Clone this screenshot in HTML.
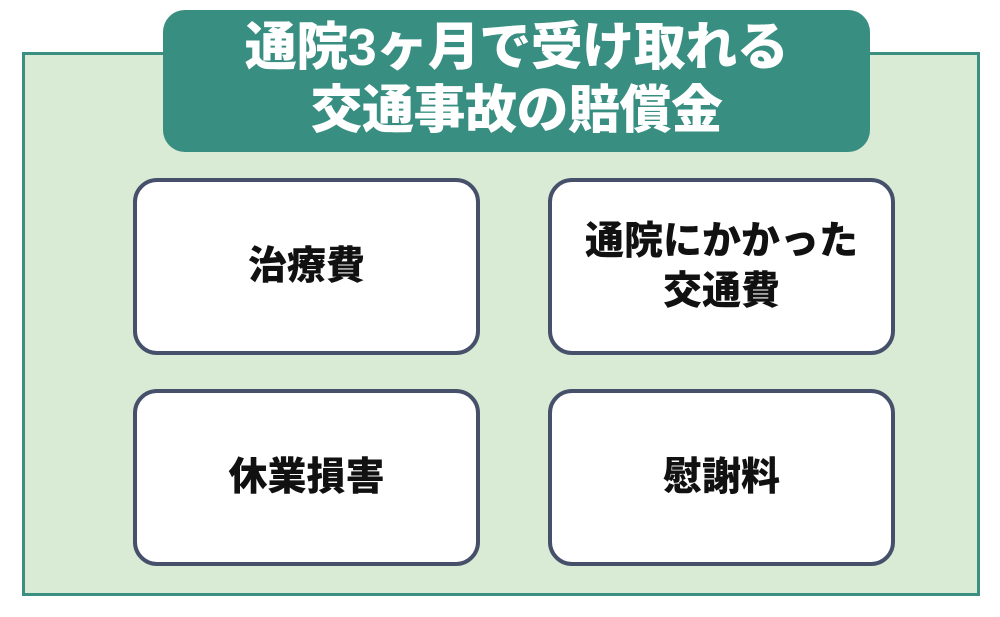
<!DOCTYPE html>
<html><head><meta charset="utf-8"><style>
*{margin:0;padding:0;box-sizing:border-box}
body{width:1000px;height:617px;background:#fff;position:relative;overflow:hidden;font-family:"Liberation Sans","Noto Sans CJK JP",sans-serif}
.outer{position:absolute;left:22px;top:52px;width:958px;height:544px;background:#d9ebd5;border:3px solid #3a8f80}
.title{position:absolute;left:163px;top:10px;width:707px;height:142px;background:#388e80;border-radius:22px;color:#fff;font-weight:900;font-size:52px;line-height:63px;text-align:center;padding-top:7px;letter-spacing:-0.5px}
.box{position:absolute;width:347px;height:177px;background:#fff;border:4px solid #46506a;border-radius:24px;display:flex;align-items:center;justify-content:center;text-align:center;font-weight:900;font-size:39px;line-height:50px;color:#111}
</style></head><body>
<div class="outer"></div>
<div class="title">通院3ヶ月で受け取れる<br>交通事故の賠償金</div>
<div class="box" style="left:133px;top:178px">治療費</div>
<div class="box" style="left:548px;top:178px">通院にかかった<br>交通費</div>
<div class="box" style="left:133px;top:389px">休業損害</div>
<div class="box" style="left:548px;top:389px">慰謝料</div>
</body></html>
